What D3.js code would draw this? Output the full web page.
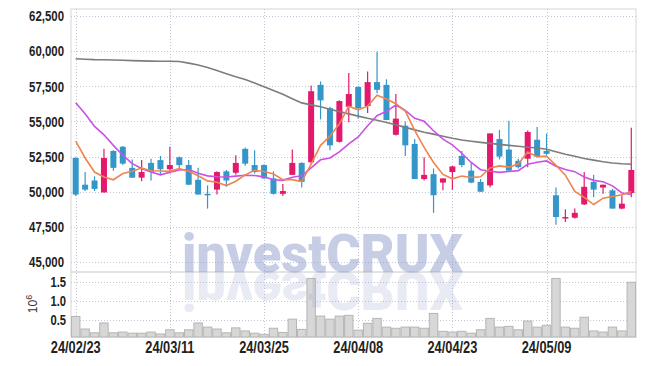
<!DOCTYPE html>
<html lang="en">
<head>
<meta charset="utf-8">
<title>Daily candles</title>
<style>
  body { margin:0; background:#fff; }
  svg { display:block; }
  .axis text { font-family: "Liberation Sans", Arial, sans-serif; font-weight:bold; fill:#222; }
  .axis path, .axis line { display:none; }
</style>
<script src="https://d3js.org/d3.v7.min.js"></script>
</head>
<body>
<script>
// trading days (yy/mm/dd)
var dates = ["24/02/23","24/02/26","24/02/27","24/02/28","24/02/29","24/03/04","24/03/05","24/03/06","24/03/07","24/03/08",
  "24/03/11","24/03/12","24/03/13","24/03/14","24/03/15","24/03/18","24/03/19","24/03/20","24/03/21","24/03/22",
  "24/03/25","24/03/26","24/03/27","24/03/28","24/03/29","24/04/01","24/04/02","24/04/03","24/04/04","24/04/05",
  "24/04/08","24/04/09","24/04/11","24/04/12","24/04/15","24/04/16","24/04/17","24/04/18","24/04/19","24/04/22",
  "24/04/23","24/04/24","24/04/25","24/04/26","24/04/29","24/04/30","24/05/02","24/05/03","24/05/07","24/05/08",
  "24/05/09","24/05/10","24/05/13","24/05/14","24/05/16","24/05/17","24/05/20","24/05/21","24/05/22","24/05/23"];

var open = [52400,50500,50800,49950,52900,53200,51700,51000,52050,52250,
  51600,52450,51900,50850,49850,50150,51450,51350,53050,51900,
  51900,50950,49850,51200,52050,52100,57600,55950,53550,56050,
  57450,56100,57800,57600,54050,54700,53400,50900,51250,50650,
  51400,52550,51500,50700,50450,53750,53000,52200,52350,53700,
  52900,49750,48100,48150,49100,50700,50300,50100,48800,49900];
var high = [52450,51400,51100,53050,52950,53250,52300,52250,52350,52550,
  53200,52500,52250,51700,50450,51450,51550,52600,53150,52950,
  51950,51450,50550,53000,52100,57550,57850,56050,56500,58450,
  57500,58550,59950,58000,56950,55000,53750,52450,51650,50950,
  51850,52900,52100,50900,54150,54400,55050,52350,54350,54600,
  54150,50300,48750,48800,51400,51200,50500,50200,49750,54550];
var low = [49700,50050,50050,49950,51500,51900,51000,50750,50800,51250,
  51300,51650,50500,49800,48800,49800,50350,51200,51850,51300,
  50900,49800,49700,51200,50300,52000,55150,52950,53500,54950,
  55200,55600,57000,55100,54000,52550,50900,50800,48500,50100,
  50150,51750,50600,50000,50300,52300,51400,51650,51750,52450,
  52600,47650,47850,48100,49050,49600,49850,48800,48750,49600];
var close = [49800,50150,50200,52400,51700,52000,51000,51400,51400,51600,
  51900,51900,50500,49800,49750,51400,50800,52050,52000,51400,
  50950,49850,50050,52050,50700,57150,56500,53300,56450,56950,
  55950,57800,57250,55100,55200,53300,50900,51200,49750,50950,
  51800,51900,50650,50000,54150,52500,51500,51750,54250,52500,
  52700,48200,48200,48500,50350,50150,50500,48800,49150,51550];

// volume, millions of shares
var volume = [0.60,0.27,0.17,0.43,0.17,0.19,0.16,0.16,0.19,0.14,
  0.25,0.17,0.25,0.43,0.32,0.27,0.17,0.30,0.22,0.16,
  0.13,0.29,0.18,0.53,0.26,1.60,0.61,0.53,0.61,0.63,
  0.24,0.42,0.55,0.32,0.29,0.32,0.32,0.29,0.68,0.21,
  0.19,0.21,0.16,0.25,0.55,0.32,0.34,0.25,0.48,0.32,
  0.37,1.60,0.32,0.29,0.58,0.22,0.19,0.32,0.22,1.50];

// moving averages
var ma5 = [53600,52400,51400,51050,50850,51300,51460,51690,51490,51470,
  51450,51640,51460,51140,50770,50670,50440,50750,51200,51530,
  51440,51260,50860,50860,50720,51960,53300,53950,54830,56080,
  55830,56090,56870,56600,56260,55740,54360,53150,52080,51230,
  50920,51120,51010,51060,51690,51840,51750,51970,52820,52490,
  52530,51880,51180,50030,49600,49090,49540,49660,49780,50020];
var ma10 = [56330,55550,54650,54050,53300,52600,52000,51650,51400,51200,
  51380,51550,51580,51320,51130,51070,51050,51110,51170,51150,
  51060,50850,50810,51030,51130,51700,52270,52400,52840,53400,
  53900,54690,55410,55720,56170,55780,55220,55010,54340,53740,
  53330,52740,52080,51570,51460,51380,51440,51500,51950,52100,
  52190,51820,51580,51430,51050,50810,50710,50420,49910,49810];
var ma60 = [59460,59430,59400,59390,59370,59350,59330,59310,59290,59280,
  59280,59270,59150,59010,58840,58630,58400,58180,57980,57740,
  57470,57200,56930,56620,56320,56180,56050,55870,55700,55540,
  55380,55230,55080,54920,54760,54580,54400,54230,54100,53950,
  53800,53680,53590,53510,53440,53370,53300,53240,53170,53110,
  53020,52850,52670,52520,52370,52250,52130,52040,51990,51960];

var priceTicks = [45000,47500,50000,52500,55000,57500,60000,62500];
var volTicks = [0.5,1.0,1.5];
var dateTicks = [0,10,20,30,40,50];

var width = 645, height = 366;
var plotL = 71, plotR = 636, plotT = 9, priceB = 272, volB = 337;
var upColor = "#e3196b", downColor = "#3597c9";

var svg = d3.select("body").append("svg")
  .attr("width", width)
  .attr("height", height);

var x = d3.scaleBand().domain(d3.range(dates.length)).range([plotL, plotR]).padding(0);
var xc = function(i){ return x(i) + x.bandwidth()/2; };
var y = d3.scaleLinear().domain([44290, 63000]).range([priceB, plotT]);
var yv = d3.scaleLinear().domain([0.06, 1.77]).range([volB, priceB]);

// frame
svg.append("rect").attr("x", plotL).attr("y", plotT).attr("width", plotR-plotL).attr("height", volB-plotT)
  .attr("fill", "none").attr("stroke", "#d6d6d6");
svg.append("line").attr("x1", plotL).attr("x2", plotR).attr("y1", priceB).attr("y2", priceB)
  .attr("stroke", "#c8c8c8");

// grid
var grid = svg.append("g").attr("stroke", "#c4c6d8").attr("stroke-dasharray", "1,2");
grid.selectAll(".hp").data(priceTicks).enter().append("line")
  .attr("x1", plotL).attr("x2", plotR)
  .attr("y1", function(d){ return Math.round(y(d))+0.5; }).attr("y2", function(d){ return Math.round(y(d))+0.5; });
grid.selectAll(".hv").data(volTicks).enter().append("line")
  .attr("x1", plotL).attr("x2", plotR)
  .attr("y1", function(d){ return Math.round(yv(d))+0.5; }).attr("y2", function(d){ return Math.round(yv(d))+0.5; });
grid.selectAll(".vx").data(dateTicks).enter().append("line")
  .attr("x1", function(d){ return Math.round(xc(d))+0.5; }).attr("x2", function(d){ return Math.round(xc(d))+0.5; })
  .attr("y1", plotT).attr("y2", volB);

// volume bars
svg.append("g").selectAll("rect").data(volume).enter().append("rect")
  .attr("x", function(d,i){ return x(i)+0.5; })
  .attr("y", function(d){ return yv(d); })
  .attr("width", x.bandwidth()-1)
  .attr("height", function(d){ return volB - yv(d); })
  .attr("fill", "#d7d7d7")
  .attr("stroke", "#b5b5b5")
  .attr("stroke-width", 1);

// candles
var bw = 6;
var candles = svg.append("g").selectAll("g").data(dates).enter().append("g");
candles.append("line")
  .attr("x1", function(d,i){ return xc(i); }).attr("x2", function(d,i){ return xc(i); })
  .attr("y1", function(d,i){ return y(high[i]); }).attr("y2", function(d,i){ return y(low[i]); })
  .attr("stroke", function(d,i){ return close[i] > open[i] ? upColor : downColor; })
  .attr("stroke-width", 1.2);
candles.append("rect")
  .attr("x", function(d,i){ return xc(i) - bw/2; })
  .attr("y", function(d,i){ return y(Math.max(open[i], close[i])); })
  .attr("width", bw)
  .attr("height", function(d,i){ return Math.max(1.5, Math.abs(y(open[i]) - y(close[i]))); })
  .attr("fill", function(d,i){ return close[i] > open[i] ? upColor : downColor; });

// moving average lines
var line = d3.line().x(function(d,i){ return xc(i); }).y(function(d){ return y(d); });
svg.append("path").datum(ma60).attr("d", line).attr("fill", "none").attr("stroke", "#7d7d7d").attr("stroke-width", 1.6);
svg.append("path").datum(ma10).attr("d", line).attr("fill", "none").attr("stroke", "#c951e6").attr("stroke-width", 1.6);
svg.append("path").datum(ma5).attr("d", line).attr("fill", "none").attr("stroke", "#ef8450").attr("stroke-width", 1.6);

// squeeze label glyphs to look condensed
function narrow(sel, k) {
  sel.each(function(){
    var w = this.getComputedTextLength();
    d3.select(this).attr("textLength", w*k).attr("lengthAdjust", "spacingAndGlyphs");
  });
}

// axes
var ya = svg.append("g").attr("class", "axis").attr("transform", "translate(" + plotL + ",0)")
  .call(d3.axisLeft(y).tickValues(priceTicks).tickFormat(d3.format(",")).tickSize(0).tickPadding(7));
ya.selectAll("text").style("font-size", "15px").call(narrow, 0.76);

var va = svg.append("g").attr("class", "axis").attr("transform", "translate(" + plotL + ",0)")
  .call(d3.axisLeft(yv).tickValues(volTicks).tickFormat(d3.format(".1f")).tickSize(0).tickPadding(5));
va.selectAll("text").style("font-size", "14px").call(narrow, 0.8);

var xa = svg.append("g").attr("class", "axis").attr("transform", "translate(0," + volB + ")")
  .call(d3.axisBottom(x).tickValues(dateTicks).tickFormat(function(i){ return dates[i]; }).tickSize(0).tickPadding(5));
xa.selectAll("text").style("font-size", "16px").call(narrow, 0.8);

// volume unit
var unit = svg.append("text")
  .attr("transform", "translate(37,304) rotate(-90)")
  .attr("text-anchor", "middle")
  .style("font-family", "\"Liberation Sans\", sans-serif")
  .style("font-size", "12px").attr("fill", "#333");
unit.append("tspan").text("10");
unit.append("tspan").attr("dy", -5).style("font-size", "9px").text("6");

// watermark with reflection
var wmFont = "Roboto, \"Liberation Sans\", Arial, sans-serif";
var wm = svg.append("g").style("pointer-events", "none");
wm.append("text").text("investCRUX")
  .attr("x", 182).attr("y", priceB)
  .attr("textLength", 281).attr("lengthAdjust", "spacingAndGlyphs")
  .style("font-family", wmFont).style("font-weight", 900).style("font-size", "54px")
  .attr("fill", "rgb(135,150,200)").attr("fill-opacity", 0.48);
wm.append("text").text("investCRUX")
  .attr("x", 182).attr("y", priceB)
  .attr("transform", "translate(0," + (2*priceB) + ") scale(1,-1)")
  .attr("textLength", 281).attr("lengthAdjust", "spacingAndGlyphs")
  .style("font-family", wmFont).style("font-weight", 900).style("font-size", "54px")
  .attr("fill", "rgb(150,160,205)").attr("fill-opacity", 0.22);
</script>
</body>
</html>
